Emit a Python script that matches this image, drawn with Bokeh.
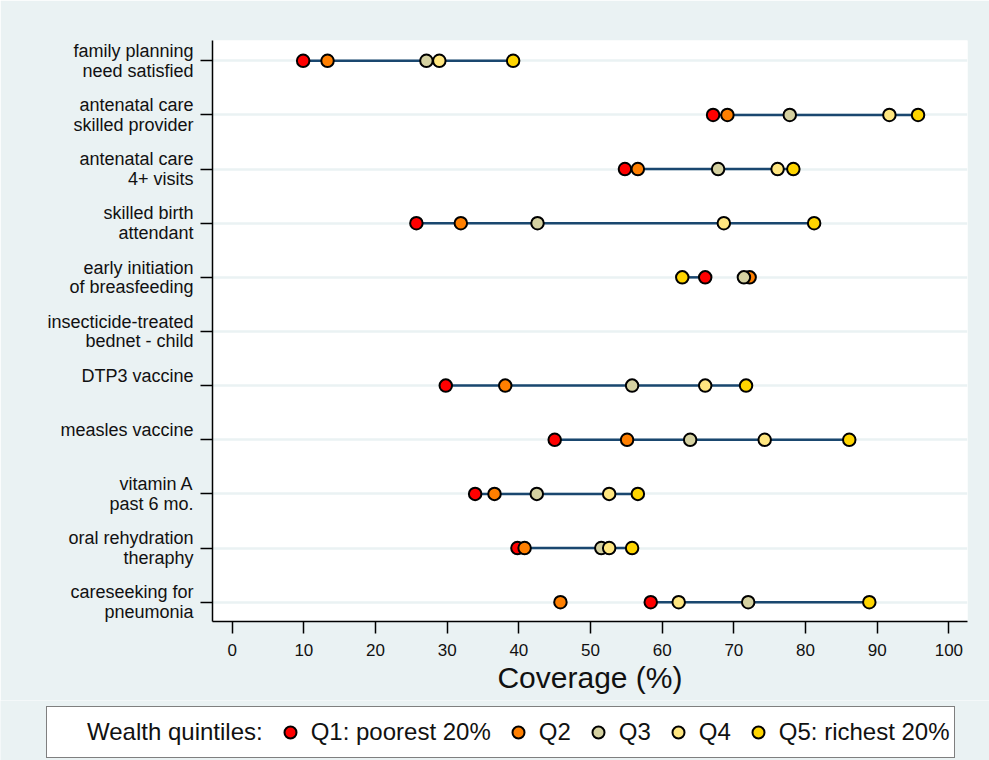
import numpy as np
from bokeh.plotting import figure
from bokeh.layouts import column
from bokeh.models import Range1d, FixedTicker, Legend, LegendItem, ColumnDataSource
from bokeh.embed import file_html
from bokeh.resources import INLINE

nan = float("nan")

# ---- data ----
indicators = [
    "family planning\nneed satisfied",
    "antenatal care\nskilled provider",
    "antenatal care\n4+ visits",
    "skilled birth\nattendant",
    "early initiation\nof breasfeeding",
    "insecticide-treated\nbednet - child",
    "DTP3 vaccine\n",
    "measles vaccine\n",
    "vitamin A\npast 6 mo.",
    "oral rehydration\ntheraphy",
    "careseeking for\npneumonia",
]
q1 = [9.9, 67.1, 54.8, 25.7, 66.0, nan, 29.8, 45.0, 33.9, 39.8, 58.4]
q2 = [13.3, 69.1, 56.6, 31.9, 72.2, nan, 38.1, 55.1, 36.6, 40.8, 45.8]
q3 = [27.1, 77.8, 67.8, 42.6, 71.4, nan, 55.8, 63.9, 42.5, 51.5, 72.0]
q4 = [28.9, 91.7, 76.1, 68.6, nan, nan, 66.0, 74.3, 52.6, 52.6, 62.3]
q5 = [39.2, 95.7, 78.3, 81.2, 62.8, nan, 71.7, 86.1, 56.6, 55.8, 88.9]
quintile_labels = ["Q1: poorest 20%", "Q2", "Q3", "Q4", "Q5: richest 20%"]
quintile_colors = ["#FF0000", "#FF7F00", "#D5D1A1", "#FFE680", "#FFD500"]
x_ticks = list(range(0, 101, 10))
legend_title = "Wealth quintiles:"
x_title = "Coverage (%)"

rows = list(range(1, len(indicators) + 1))
BG = "#EAF2F3"

# ---------------- main chart ----------------
p = figure(width=989, height=700, output_backend="svg", toolbar_location=None,
           x_range=Range1d(-2.75, 102.6), y_range=Range1d(11.357, 0.625),
           min_border_left=212, min_border_right=22, min_border_top=40,
           min_border_bottom=79)
p.frame_align = False
p.background_fill_color = "white"
p.border_fill_color = BG
p.outline_line_color = None

p.xgrid.visible = False
p.ygrid.grid_line_color = BG
p.ygrid.grid_line_width = 2.5
p.ygrid.ticker = FixedTicker(ticks=rows)

p.yaxis.ticker = FixedTicker(ticks=rows)
p.yaxis.major_label_overrides = {r: lab for r, lab in zip(rows, indicators)}
p.yaxis.major_label_text_font = "Liberation Sans"
p.yaxis.major_label_text_font_size = "18px"
p.yaxis.major_label_text_color = "#111111"
p.yaxis.major_label_text_line_height = 0.98
p.yaxis.major_label_standoff = 7
p.yaxis.major_tick_out = 12
p.yaxis.major_tick_in = 0
p.yaxis.minor_tick_line_color = None
p.yaxis.axis_line_color = "black"
p.yaxis.axis_line_width = 1.5
p.yaxis.major_tick_line_width = 1.5

p.xaxis.ticker = FixedTicker(ticks=x_ticks)
p.xaxis.major_label_text_font = "Liberation Sans"
p.xaxis.major_label_text_font_size = "17px"
p.xaxis.major_label_text_color = "#111111"
p.xaxis.major_label_standoff = 10
p.xaxis.major_tick_out = 12
p.xaxis.major_tick_in = 0
p.xaxis.minor_tick_line_color = None
p.xaxis.axis_line_color = "black"
p.xaxis.axis_line_width = 1.5
p.xaxis.major_tick_line_width = 1.5
p.xaxis.axis_label = x_title
p.xaxis.axis_label_text_font = "Liberation Sans"
p.xaxis.axis_label_text_font_size = "30px"
p.xaxis.axis_label_text_font_style = "normal"
p.xaxis.axis_label_text_color = "#111111"
p.xaxis.axis_label_standoff = 2

seg_src = ColumnDataSource(dict(x0=np.array(q1, dtype=float), x1=np.array(q5, dtype=float),
                                y=np.array(rows, dtype=float)))
p.segment(x0="x0", y0="y", x1="x1", y1="y", source=seg_src,
          line_color="#1A476F", line_width=2.5)

sources = []
for vals, col in zip([q1, q2, q3, q4, q5], quintile_colors):
    src = ColumnDataSource(dict(x=np.array(vals, dtype=float), y=np.array(rows, dtype=float)))
    sources.append(src)
    p.scatter(x="x", y="y", source=src, size=12.5, fill_color=col,
              line_color="black", line_width=2)

# ---------------- legend strip ----------------
lf = figure(width=989, height=60, output_backend="svg", toolbar_location=None,
            x_range=Range1d(200, 300), y_range=Range1d(0, 1),
            x_axis_type=None, y_axis_type=None,
            min_border_left=0, min_border_right=0, min_border_top=0, min_border_bottom=0)
lf.frame_align = False
lf.background_fill_color = BG
lf.border_fill_color = BG
lf.outline_line_color = None
lf.xgrid.visible = False
lf.ygrid.visible = False

title_r = lf.scatter(x=[], y=[], fill_alpha=0, line_alpha=0, size=1)
leg_renderers = []
for src, col in zip(sources, quintile_colors):
    r = lf.scatter(x="x", y="y", source=src, size=12.5, fill_color=col,
                   line_color="black", line_width=2)
    leg_renderers.append(r)

items = [LegendItem(label=legend_title, renderers=[title_r])]
items += [LegendItem(label=lab, renderers=[r]) for lab, r in zip(quintile_labels, leg_renderers)]
legend = Legend(items=items, orientation="horizontal", location=(46, 2))
legend.label_text_font = "Liberation Sans"
legend.label_text_font_size = "24px"
legend.label_text_color = "#111111"
legend.label_standoff = 6
legend.glyph_width = 30
legend.glyph_height = 42
legend.label_height = 42
legend.spacing = 12
legend.padding = 4
legend.margin = 0
legend.border_line_color = "black"
legend.border_line_width = 1.5
legend.background_fill_color = "white"
legend.background_fill_alpha = 1.0
lf.add_layout(legend, "center")

layout = column(p, lf, spacing=0)
open("out.html", "w").write(file_html(layout, INLINE))
